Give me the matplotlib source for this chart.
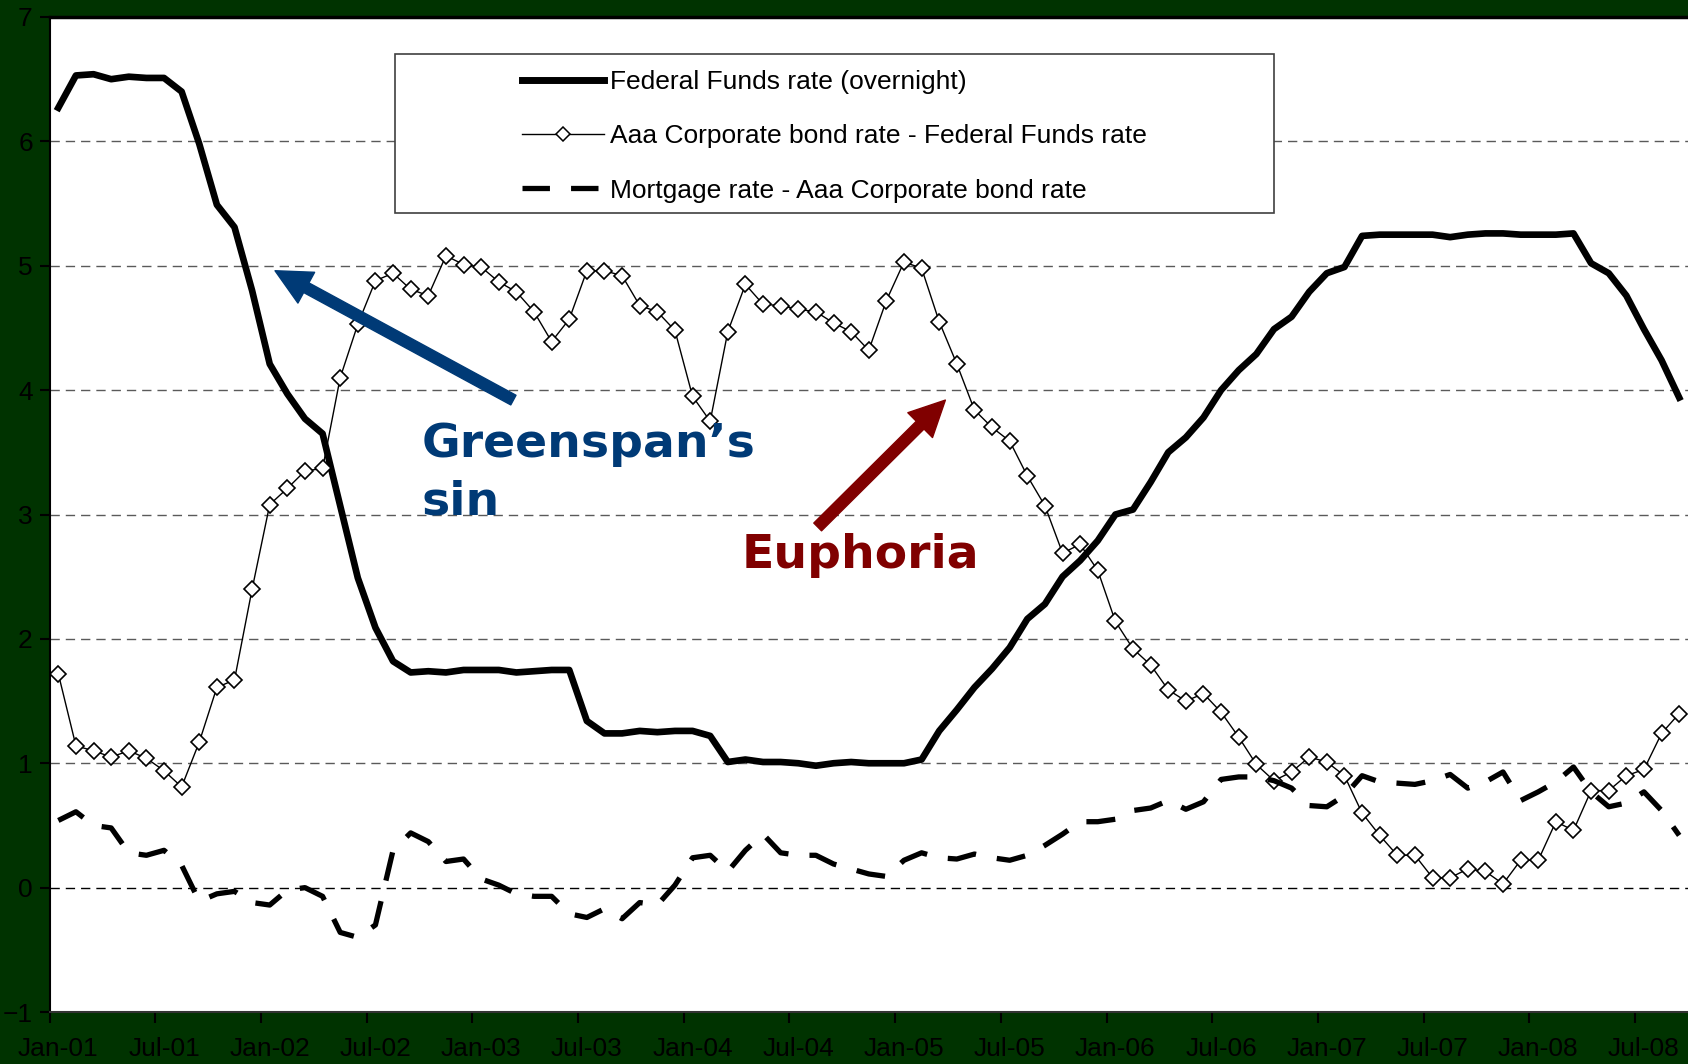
import numpy as np
import matplotlib.pyplot as plt
from matplotlib.lines import Line2D
from matplotlib.patches import Rectangle

plt.rcParams['font.family'] = ['Liberation Sans', 'DejaVu Sans']

# monthly values, first category labelled Jan-01
fed_funds = [
    6.27, 6.53, 6.54, 6.50, 6.52, 6.51, 6.51, 6.40, 5.98, 5.49,
    5.31, 4.80, 4.21, 3.97, 3.77, 3.65, 3.07, 2.49, 2.09, 1.82,
    1.73, 1.74, 1.73, 1.75, 1.75, 1.75, 1.73, 1.74, 1.75, 1.75,
    1.34, 1.24, 1.24, 1.26, 1.25, 1.26, 1.26, 1.22, 1.01, 1.03,
    1.01, 1.01, 1.00, 0.98, 1.00, 1.01, 1.00, 1.00, 1.00, 1.03,
    1.26, 1.43, 1.61, 1.76, 1.93, 2.16, 2.28, 2.50, 2.63, 2.79,
    3.00, 3.04, 3.26, 3.50, 3.62, 3.78, 4.00, 4.16, 4.29, 4.49,
    4.59, 4.79, 4.94, 4.99, 5.24, 5.25, 5.25, 5.25, 5.25, 5.23,
    5.25, 5.26, 5.26, 5.25, 5.25, 5.25, 5.26, 5.02, 4.94, 4.76,
    4.49, 4.24, 3.94,
]

aaa_minus_ff = [
    1.72, 1.14, 1.10, 1.05, 1.10, 1.04, 0.94, 0.81, 1.17, 1.61,
    1.67, 2.40, 3.08, 3.21, 3.35, 3.37, 4.10, 4.53, 4.88, 4.94,
    4.81, 4.76, 5.08, 5.01, 4.99, 4.87, 4.79, 4.63, 4.39, 4.57,
    4.96, 4.96, 4.92, 4.68, 4.63, 4.48, 3.95, 3.75, 4.47, 4.85,
    4.69, 4.68, 4.65, 4.63, 4.54, 4.47, 4.32, 4.72, 5.03, 4.98,
    4.55, 4.21, 3.84, 3.70, 3.59, 3.31, 3.07, 2.69, 2.76, 2.55,
    2.14, 1.92, 1.79, 1.59, 1.50, 1.56, 1.41, 1.21, 0.99, 0.86,
    0.93, 1.05, 1.01, 0.90, 0.60, 0.42, 0.26, 0.26, 0.08, 0.08,
    0.15, 0.13, 0.03, 0.22, 0.22, 0.53, 0.46, 0.78, 0.78, 0.90,
    0.95, 1.24, 1.40,
]

mortgage_minus_aaa = [
    0.54, 0.61, 0.50, 0.48, 0.28, 0.26, 0.30, 0.18, -0.11, -0.05,
    -0.03, -0.12, -0.14, -0.02, 0.00, -0.07, -0.36, -0.40, -0.30, 0.30,
    0.44, 0.37, 0.21, 0.23, 0.07, 0.02, -0.05, -0.07, -0.07, -0.21,
    -0.24, -0.17, -0.25, -0.12, -0.14, 0.02, 0.24, 0.26, 0.13, 0.30,
    0.43, 0.28, 0.26, 0.26, 0.19, 0.15, 0.11, 0.09, 0.22, 0.28,
    0.24, 0.23, 0.27, 0.24, 0.22, 0.26, 0.34, 0.43, 0.53, 0.53,
    0.55, 0.62, 0.64, 0.70, 0.63, 0.69, 0.87, 0.89, 0.89, 0.86,
    0.80, 0.66, 0.65, 0.74, 0.90, 0.85, 0.84, 0.83, 0.86, 0.91,
    0.80, 0.85, 0.93, 0.70, 0.77, 0.85, 0.97, 0.77, 0.65, 0.68,
    0.77, 0.62, 0.42,
]

tick_labels = ['Jan-01', 'Jul-01', 'Jan-02', 'Jul-02', 'Jan-03', 'Jul-03',
               'Jan-04', 'Jul-04', 'Jan-05', 'Jul-05', 'Jan-06', 'Jul-06',
               'Jan-07', 'Jul-07', 'Jan-08', 'Jul-08']

series_names = ['Federal Funds rate (overnight)',
                'Aaa Corporate bond rate - Federal Funds rate',
                'Mortgage rate - Aaa Corporate bond rate']

GREEN = '#003300'
BLUE = '#003A76'
RED = '#800000'

W, H = 1688, 1064
fig = plt.figure(figsize=(W / 100, H / 100), dpi=100, facecolor=GREEN)
ax = fig.add_axes([49.5 / W, 1 - 1012 / H, 1 - 49.5 / W, (1012 - 17) / H])
ax.set_facecolor('white')

x = np.arange(len(fed_funds))

# horizontal dashed grid, zero line darker
for v in range(0, 8):
    ax.axhline(v, color='black' if v == 0 else '#5a5a5a', lw=1.0,
               linestyle=(0, (6.7, 4.3)), zorder=1)

ax.plot(x, fed_funds, color='black', lw=4.8, solid_joinstyle='round', zorder=3)
ax.plot(x, aaa_minus_ff, color='black', lw=1.0, marker='D', ms=8.5,
        mfc='white', mec='black', mew=1.2, zorder=3)
ax.plot(x, mortgage_minus_aaa, color='black', lw=3.8, dashes=(5.5, 4), zorder=3)

ax.set_xlim(-0.5, 92.5)
ax.set_ylim(-1, 7)
ax.set_yticks(range(-1, 8))
ax.set_xticks(np.arange(0, 91, 6))
ax.set_xticklabels(tick_labels)
ax.set_xticks(np.arange(-0.5, 93, 6), minor=True)
ax.tick_params(axis='x', which='major', length=0, pad=18, labelsize=19, colors='black')
ax.tick_params(axis='x', which='minor', length=8, width=1.5, color='black')
ax.tick_params(axis='y', length=7, width=1.5, pad=5, labelsize=19, colors='black')

ax.spines['right'].set_visible(False)
ax.spines['top'].set_linewidth(2.5)
ax.spines['left'].set_linewidth(1.5)
ax.spines['bottom'].set_linewidth(1.5)
ax.spines['bottom'].set_color('#333333')

# legend frame, wider than its contents
fig.add_artist(Rectangle((395 / W, 1 - 213 / H), 879 / W, 159 / H,
                         transform=fig.transFigure, facecolor='white',
                         edgecolor='#404040', lw=1.2, zorder=4))
handles = [
    Line2D([], [], color='black', lw=5),
    Line2D([], [], color='black', lw=1.0, marker='D', ms=7, mfc='white',
           mec='black', mew=1.1),
    Line2D([], [], color='black', lw=3.8, dashes=(5.2, 4)),
]
leg = fig.legend(handles, series_names, loc='upper left',
                 bbox_to_anchor=(522 / W, 1 - 70 / H), bbox_transform=fig.transFigure,
                 frameon=False, fontsize=19, handlelength=3.1, handletextpad=0.25,
                 labelspacing=1.15, borderpad=0, borderaxespad=0, markerscale=1)
leg.set_zorder(5)

arrow_style = 'simple,head_length=2.56,head_width=2.52,tail_width=0.79'
ax.annotate('', xy=(12.3, 4.96), xytext=(25.83, 3.92),
            arrowprops=dict(arrowstyle=arrow_style, mutation_scale=10, color=BLUE,
                            shrinkA=0, shrinkB=0), zorder=6)
ax.annotate('', xy=(50.35, 3.92), xytext=(43.1, 2.90),
            arrowprops=dict(arrowstyle=arrow_style, mutation_scale=10, color=RED,
                            shrinkA=0, shrinkB=0), zorder=6)

note_font = dict(family='DejaVu Sans', fontweight='bold', fontsize=34, zorder=6)
ax.text(20.6, 3.46, 'Greenspan\u2019s', color=BLUE, va='baseline', ha='left', **note_font)
ax.text(20.6, 3.00, 'sin', color=BLUE, va='baseline', ha='left', **note_font)
ax.text(38.8, 2.57, 'Euphoria', color=RED, va='baseline', ha='left', **note_font)

fig.savefig('out.png', dpi=100, facecolor=fig.get_facecolor())
